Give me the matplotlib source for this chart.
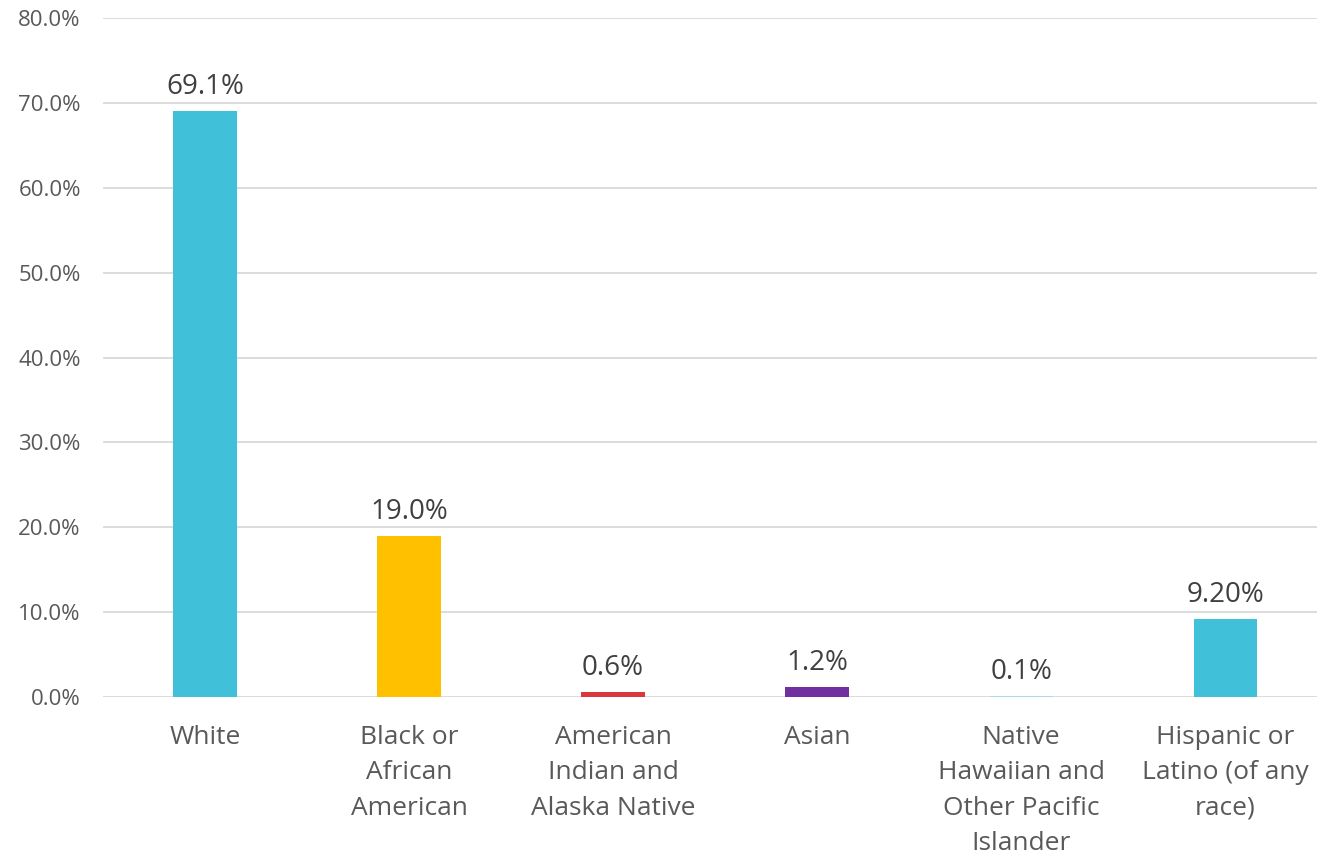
import matplotlib
matplotlib.use("Agg")
import matplotlib.pyplot as plt
from matplotlib.ticker import FuncFormatter

categories = ["White", "Black or\nAfrican\nAmerican", "American\nIndian and\nAlaska Native",
              "Asian", "Native\nHawaiian and\nOther Pacific\nIslander", "Hispanic or\nLatino (of any\nrace)"]
values = [69.1, 19.0, 0.6, 1.2, 0.1, 9.2]
labels = ["69.1%", "19.0%", "0.6%", "1.2%", "0.1%", "9.20%"]
colors = ["#41C0D9", "#FFC000", "#D9383D", "#7030A0", "#A6DDE8", "#41C0D9"]
yticks = [0, 10, 20, 30, 40, 50, 60, 70, 80]

plt.rcParams['font.family'] = ['Open Sans', 'DejaVu Sans']

fig = plt.figure(figsize=(13.17, 8.6), dpi=100)
ax = fig.add_axes([103/1317, (860-697)/860, 1 - 103/1317, (697-18)/860])

x = list(range(len(values)))
ax.bar(x, values, width=0.31, color=colors, zorder=3)
for xi, v, lab in zip(x, values, labels):
    ax.annotate(lab, (xi, v), xytext=(0, 7), textcoords="offset points",
                ha="center", va="bottom", fontsize=20, color="#404040")

ax.set_ylim(0, 80)
ax.set_xlim(-0.5, 5.45)
ax.set_yticks(yticks)
ax.yaxis.set_major_formatter(FuncFormatter(lambda v, p: f"{v:.1f}%"))
ax.set_xticks(x)
ax.set_xticklabels(categories, fontsize=19, color="#595959", linespacing=1.55)
ax.tick_params(axis="y", labelsize=16, labelcolor="#595959", length=0, pad=16)
ax.tick_params(axis="x", length=0, pad=20)
ax.grid(axis="y", color="#D9D9D9", linewidth=1.3, zorder=0)
for s in ax.spines.values():
    s.set_visible(False)

fig.savefig("out.png", dpi=100)
